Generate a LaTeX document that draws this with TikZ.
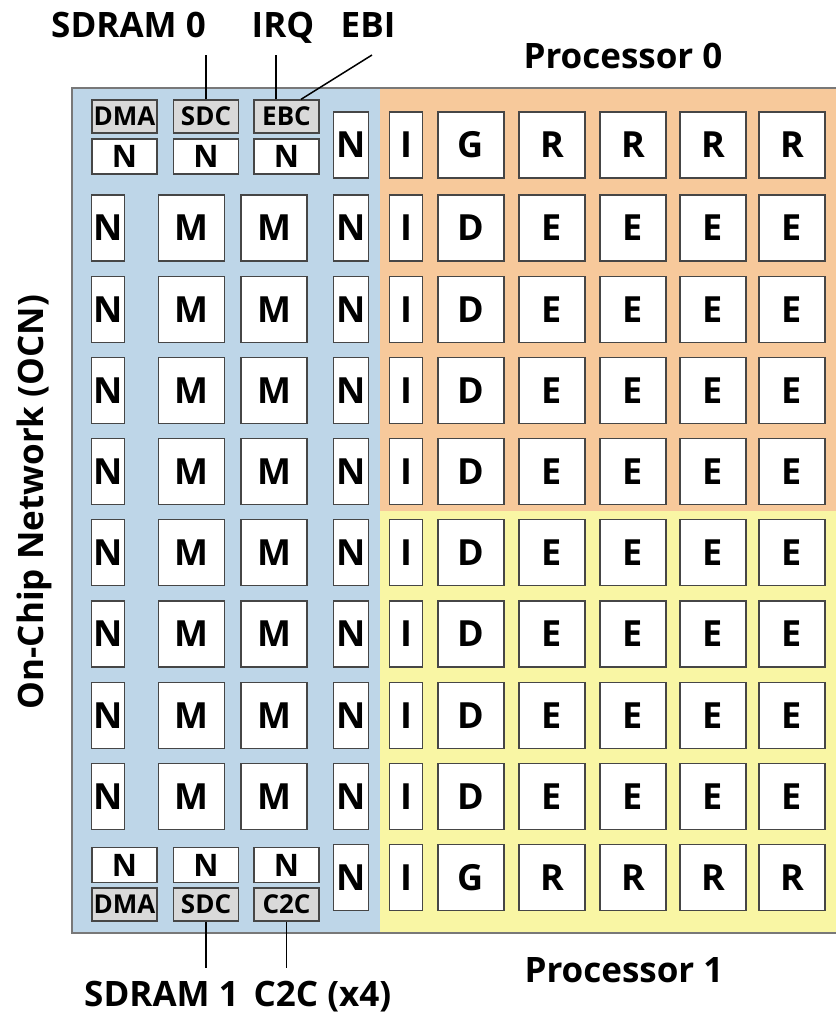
\documentclass[tikz,border=0pt]{standalone}
\usepackage{fontspec}
\setmainfont{Open Sans}
\definecolor{ocnblue}{RGB}{190, 214, 232}
\definecolor{proczero}{RGB}{247, 201, 155}
\definecolor{procone}{RGB}{249, 246, 164}
\definecolor{tileedge}{RGB}{70, 70, 70}
\definecolor{portgray}{RGB}{217, 217, 217}
\definecolor{framegray}{RGB}{120, 120, 120}

\tikzset{
  tile/.style={draw=tileedge, fill=white, line width=1.3pt, minimum width=66pt, minimum height=66pt, inner sep=0pt, font=\fontsize{36}{36}\selectfont\bfseries},
  slim/.style={tile, minimum width=33pt},
  port/.style={draw=tileedge, fill=portgray, line width=1.3pt, minimum width=65pt, minimum height=33pt, inner sep=0pt, font=\fontsize{26}{26}\selectfont\bfseries},
  halfn/.style={port, fill=white, minimum height=35pt, font=\fontsize{31}{31}\selectfont\bfseries},
  chiplabel/.style={font=\fontsize{35}{35}\selectfont\bfseries, anchor=base},
}

\begin{document}
\begin{tikzpicture}[x=1pt, y=-1pt]
                    \useasboundingbox (0,0) rectangle (836,1013);
                    % regions
                    \fill[ocnblue] (72,88) rectangle (380,933);
                    \fill[proczero] (380,88) rectangle (836,511);
                    \fill[procone] (380,511) rectangle (836,933);
                    \draw[framegray, line width=1.5pt] (836,88) -- (72,88) -- (72,933) -- (836,933);

                    % top row
                    \node[port] (dmaT) at (124.5,116.5) {DMA};
                    \node[port] (sdcT) at (206,116.5) {SDC};
                    \node[port] (ebcT) at (286.5,116.5) {EBC};
                    \node[halfn] (nT1) at (124.5,156.5) {N};
                    \node[halfn] (nT2) at (206,156.5) {N};
                    \node[halfn] (nT3) at (286.5,156.5) {N};
                    \node[slim, minimum width=35pt] (nR1) at (351,145) {N};
                    \node[slim] (i1) at (406,145) {I};
                    \node[tile] (g1) at (471,145) {G};
                    \foreach \c/\x in {1/552,2/633,3/713,4/792}
                        \node[tile] (r1\c) at (\x,145) {R};

                    % middle rows
                    \foreach \r in {2,...,9} {
                        \pgfmathsetmacro{\y}{228+81.2*(\r-2)}
                        \node[slim] (nL\r) at (108,\y) {N};
                        \node[tile] (mA\r) at (191.5,\y) {M};
                        \node[tile] (mB\r) at (274,\y) {M};
                        \node[slim, minimum width=35pt] (nR\r) at (351,\y) {N};
                        \node[slim] (i\r) at (406,\y) {I};
                        \node[tile] (d\r) at (471,\y) {D};
                        \foreach \c/\x in {1/552,2/633,3/713,4/792}
                            \node[tile] (e\r\c) at (\x,\y) {E};
                    }

                    % bottom row
                    \node[halfn] (nB1) at (124.5,865) {N};
                    \node[halfn] (nB2) at (206,865) {N};
                    \node[halfn] (nB3) at (286.5,865) {N};
                    \node[port] (dmaB) at (124.5,904.5) {DMA};
                    \node[port] (sdcB) at (206,904.5) {SDC};
                    \node[port] (c2cB) at (286.5,904.5) {C2C};
                    \node[slim, minimum width=35pt] (nR10) at (351,877.5) {N};
                    \node[slim] (i10) at (406,877.5) {I};
                    \node[tile] (g10) at (471,877.5) {G};
                    \foreach \c/\x in {1/552,2/633,3/713,4/792}
                        \node[tile] (r10\c) at (\x,877.5) {R};

                    % pins
                    \coordinate (sdram0pin) at (206,55);
                    \coordinate (irqpin) at (276,55);
                    \coordinate (ebipin) at (372,55);
                    \coordinate (sdram1pin) at (206,968);
                    \coordinate (c2cpin) at (286.5,968);
                    \draw[line width=1.5pt] (sdcT.north) -- (sdram0pin);
                    \draw[line width=1.5pt] ([xshift=-10.5pt]ebcT.north) -- (irqpin);
                    \draw[line width=1.5pt] ([xshift=14.5pt]ebcT.north) -- (ebipin);
                    \draw[line width=1.5pt] (sdcB.south) -- (sdram1pin);
                    \draw[line width=1.5pt] (c2cB.south) -- (c2cpin);

                    % labels
                    \node[chiplabel] (sdram0) at (128.5,37) {SDRAM 0};
                    \node[chiplabel] (irq) at (283,37) {IRQ};
                    \node[chiplabel] (ebi) at (368,37) {EBI};
                    \node[chiplabel] (proc0) at (623,68) {Processor 0};
                    \node[chiplabel] (proc1) at (624,982) {Processor 1};
                    \node[chiplabel] (sdram1) at (161.5,1006) {SDRAM 1};
                    \node[chiplabel] (c2c) at (322.5,1006) {C2C (x4)};
                    \node[chiplabel, rotate=90] (ocn) at (43,502) {On-Chip Network (OCN)};
                \end{tikzpicture}
\end{document}
